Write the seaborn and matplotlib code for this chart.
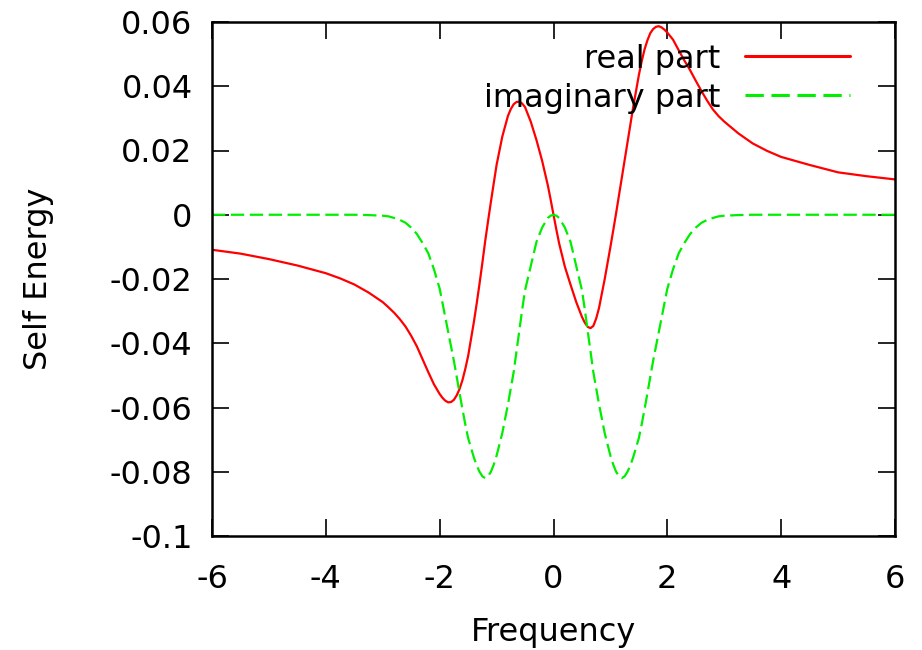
import matplotlib
matplotlib.use("Agg")
import matplotlib.pyplot as plt
import seaborn as sns
import pandas as pd

# Frequency sample points
frequency = [-6.0, -5.5, -5.0, -4.5, -4.0, -3.75, -3.5, -3.25, -3.0, -2.9, -2.8, -2.7,
             -2.6, -2.5, -2.4, -2.3, -2.2, -2.1, -2.0, -1.95, -1.9, -1.85, -1.8, -1.75,
             -1.7, -1.65, -1.6, -1.55, -1.5, -1.4, -1.35, -1.3, -1.25, -1.2, -1.15, -1.1,
             -1.05, -1.0, -0.9, -0.8, -0.75, -0.7, -0.65, -0.6, -0.55, -0.5, -0.4, -0.3,
             -0.2, -0.1, -0.05, 0.0,
             0.05, 0.1, 0.2, 0.3, 0.4, 0.5, 0.55, 0.6, 0.65, 0.7, 0.75, 0.8,
             0.9, 1.0, 1.05, 1.1, 1.15, 1.2, 1.25, 1.3, 1.35, 1.4, 1.5, 1.55,
             1.6, 1.65, 1.7, 1.75, 1.8, 1.85, 1.9, 1.95, 2.0, 2.1, 2.2, 2.3,
             2.4, 2.5, 2.6, 2.7, 2.8, 2.9, 3.0, 3.25, 3.5, 3.75, 4.0, 4.5,
             5.0, 5.5, 6.0]

real_part = [-0.0109, -0.0121, -0.0138, -0.0158, -0.0182, -0.0198, -0.0217, -0.0242,
             -0.0272, -0.0288, -0.0305, -0.0325,
             -0.0348, -0.0377, -0.0410, -0.0450, -0.0490, -0.0528, -0.0558, -0.0570,
             -0.0579, -0.0584, -0.0583, -0.0576,
             -0.0562, -0.0542, -0.0515, -0.0480, -0.0440, -0.0335, -0.0277, -0.0215,
             -0.0150, -0.0082, -0.0020, 0.0040,
             0.0098, 0.0155, 0.0243, 0.0308, 0.0329, 0.0344, 0.0351, 0.0352, 0.0346,
             0.0335, 0.0290, 0.0233,
             0.0168, 0.0092, 0.0047, 0.0,
             -0.0046, -0.0090, -0.0162, -0.0218, -0.0272, -0.0318, -0.0336, -0.0349,
             -0.0353, -0.0346, -0.0323, -0.0290,
             -0.0200, -0.0100, -0.0048, 0.0005, 0.0060, 0.0115, 0.0170, 0.0225, 0.0280,
             0.0335, 0.0435, 0.0478,
             0.0515, 0.0543, 0.0565, 0.0578, 0.0585, 0.0587, 0.0583, 0.0576, 0.0567,
             0.0545, 0.0512, 0.0480,
             0.0450, 0.0417, 0.0385, 0.0355, 0.0328, 0.0307, 0.0290, 0.0253, 0.0222,
             0.0199, 0.0180, 0.0155,
             0.0132, 0.0120, 0.0110]

imaginary_part = [0.0, 0.0, 0.0, 0.0, 0.0, 0.0, 0.0, -0.0001, -0.0003, -0.0005, -0.0010,
                  -0.0016,
                  -0.0025, -0.0040, -0.0060, -0.0088, -0.0120, -0.0170, -0.0230, -0.0275,
                  -0.0320, -0.0365, -0.0410, -0.0455,
                  -0.0505, -0.0556, -0.0605, -0.0652, -0.0695, -0.0755, -0.0780, -0.0800,
                  -0.0814, -0.0820, -0.0814, -0.0800,
                  -0.0778, -0.0750, -0.0680, -0.0590, -0.0540, -0.0490, -0.0425, -0.0360,
                  -0.0295, -0.0235, -0.0160, -0.0085,
                  -0.0040, -0.0010, -0.0003, 0.0,
                  -0.0003, -0.0010, -0.0040, -0.0085, -0.0160, -0.0235, -0.0295, -0.0360,
                  -0.0425, -0.0490, -0.0540, -0.0590,
                  -0.0680, -0.0750, -0.0778, -0.0800, -0.0814, -0.0820, -0.0814, -0.0800,
                  -0.0780, -0.0755, -0.0695, -0.0652,
                  -0.0605, -0.0556, -0.0505, -0.0455, -0.0410, -0.0365, -0.0320, -0.0275,
                  -0.0230, -0.0170, -0.0120, -0.0088,
                  -0.0060, -0.0040, -0.0025, -0.0016, -0.0010, -0.0005, -0.0003, -0.0001,
                  0.0, 0.0, 0.0, 0.0,
                  0.0, 0.0, 0.0]

x_ticks = [-6, -4, -2, 0, 2, 4, 6]
x_tick_labels = ["-6", "-4", "-2", "0", "2", "4", "6"]
y_ticks = [-0.1, -0.08, -0.06, -0.04, -0.02, 0.0, 0.02, 0.04, 0.06]
y_tick_labels = ["-0.1", "-0.08", "-0.06", "-0.04", "-0.02", "0", "0.02", "0.04", "0.06"]

df = pd.DataFrame({"Frequency": frequency, "real part": real_part,
                   "imaginary part": imaginary_part})

sns.set_style("white")
plt.rcParams["font.family"] = ["DejaVu Sans"]
plt.rcParams["axes.unicode_minus"] = False
plt.rcParams["text.color"] = "black"
plt.rcParams["axes.labelcolor"] = "black"

FS = 23
fig = plt.figure(figsize=(9.22, 6.5), dpi=100)
ax = fig.add_axes([212 / 922, 1 - 536 / 650, (895 - 212) / 922, (536 - 22) / 650])

sns.lineplot(data=df, x="Frequency", y="real part", ax=ax, color="#ff0000",
             linewidth=1.6, label="real part", sort=False)
sns.lineplot(data=df, x="Frequency", y="imaginary part", ax=ax, color="#00ee00",
             linewidth=1.6, linestyle=(0, (6, 2.5)), label="imaginary part", sort=False)

ax.set_xlim(-6, 6)
ax.set_ylim(-0.1, 0.06)
ax.set_xticks(x_ticks)
ax.set_xticklabels(x_tick_labels)
ax.set_yticks(y_ticks)
ax.set_yticklabels(y_tick_labels)

ax.tick_params(axis="both", which="major", direction="in", length=12, width=1.2,
               colors="black", labelsize=FS,
               top=True, right=True, bottom=True, left=True)
ax.tick_params(axis="y", pad=14)
ax.tick_params(axis="x", pad=20)
for side in ["top", "right", "bottom", "left"]:
    ax.spines[side].set_visible(True)
    ax.spines[side].set_color("black")
    ax.spines[side].set_linewidth(1.8)

ax.set_xlabel("Frequency", fontsize=FS, color="black", labelpad=16)
ax.set_ylabel("Self Energy", fontsize=FS, color="black", labelpad=40)

leg = ax.legend(loc="upper right", bbox_to_anchor=(0.934, 0.958), frameon=False,
                markerfirst=False, fontsize=FS, handlelength=3.3, handletextpad=0.75,
                labelspacing=0.25, borderpad=0.0, borderaxespad=0.0)
for t in leg.get_texts():
    t.set_color("black")
for h in leg.get_lines():
    h.set_linewidth(2.2)

fig.savefig("out.png", dpi=100)
